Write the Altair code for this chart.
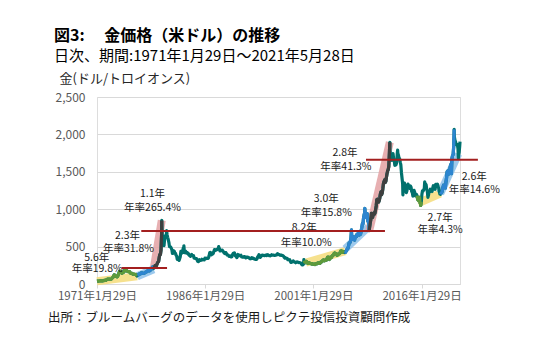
import altair as alt
import pandas as pd

FONT = "Noto Sans CJK JP"

# ---- monthly gold price (USD / troy oz) ----
p1970s = [
    38.0, 38.7, 38.9, 39.0, 40.5, 40.1, 41.0, 42.7, 42.0, 42.5, 42.9, 43.5,
    45.7, 48.3, 48.3, 49.0, 54.6, 62.1, 65.7, 67.0, 65.5, 64.9, 62.9, 63.9,
    65.1, 74.2, 84.1, 90.5, 102.0, 122.5, 120.2, 106.8, 103.0, 100.1, 94.8, 106.7,
    129.2, 150.2, 168.4, 172.2, 163.2, 154.1, 143.0, 154.6, 151.8, 158.8, 181.7, 183.8,
    176.3, 179.6, 178.2, 170.0, 167.1, 164.2, 165.2, 163.1, 144.6, 142.8, 142.8, 139.3,
    131.6, 130.6, 132.6, 128.2, 126.9, 125.7, 118.0, 107.5, 114.0, 116.0, 130.3, 133.9,
    132.3, 136.3, 148.2, 149.2, 146.7, 141.0, 143.4, 145.0, 149.5, 158.3, 162.1, 160.5,
    173.2, 178.1, 183.7, 175.1, 176.3, 183.4, 188.6, 206.0, 212.6, 227.3, 206.0, 207.8,
    227.3, 245.7, 242.1, 239.2, 257.6, 279.1, 294.7, 300.8, 355.1, 391.7, 392.5, 455.1,
]
p1980s = [
    675.3, 665.3, 553.6, 517.4, 513.8, 600.7, 644.3, 626.5, 673.6, 661.2, 623.5, 594.9,
    557.4, 499.8, 498.8, 495.8, 479.7, 460.8, 409.3, 410.2, 443.7, 437.8, 413.4, 410.1,
    384.1, 374.2, 330.1, 350.5, 333.7, 314.9, 339.1, 364.3, 436.9, 422.1, 414.8, 444.3,
    481.7, 492.0, 420.0, 432.8, 438.4, 412.8, 422.7, 416.3, 411.8, 393.6, 381.7, 388.1,
    370.9, 386.2, 394.3, 381.2, 377.1, 378.1, 347.7, 347.7, 341.1, 340.2, 341.1, 320.2,
    303.0, 298.9, 304.0, 324.9, 316.6, 316.6, 317.4, 330.1, 323.6, 325.8, 325.3, 322.4,
    345.4, 339.1, 345.8, 340.4, 342.6, 342.8, 348.7, 376.9, 418.6, 423.4, 398.1, 391.0,
    408.9, 401.1, 408.7, 438.5, 460.2, 449.6, 450.5, 460.6, 460.2, 465.9, 467.6, 486.5,
    477.4, 442.1, 443.6, 451.1, 451.6, 452.1, 437.0, 431.4, 413.0, 406.8, 420.1, 418.7,
    404.0, 387.8, 390.1, 384.1, 371.0, 367.6, 375.0, 365.4, 361.8, 366.9, 394.3, 409.5,
]
p1990s = [
    410.1, 416.7, 393.1, 374.3, 369.2, 352.3, 362.5, 394.7, 389.3, 380.7, 381.4, 378.2,
    383.6, 363.8, 363.3, 358.4, 357.4, 366.7, 367.7, 356.4, 348.7, 358.6, 360.2, 361.1,
    354.4, 353.8, 344.4, 338.6, 337.2, 340.8, 353.1, 342.9, 345.4, 344.4, 335.0, 334.8,
    329.0, 329.3, 330.1, 342.2, 367.2, 371.9, 392.0, 378.9, 355.3, 364.2, 374.0, 383.3,
    387.0, 381.7, 384.4, 378.3, 381.3, 385.4, 385.5, 380.4, 391.6, 389.8, 384.4, 379.3,
    378.6, 376.5, 382.0, 391.0, 385.3, 387.6, 386.2, 383.8, 383.1, 383.0, 385.9, 387.4,
    400.0, 405.0, 396.2, 392.9, 392.0, 385.3, 383.5, 387.5, 383.1, 381.1, 377.9, 369.0,
    354.8, 346.6, 351.8, 344.5, 343.8, 340.8, 324.1, 324.0, 322.8, 324.9, 306.0, 288.7,
    289.2, 297.5, 295.9, 308.4, 299.1, 292.3, 292.9, 284.1, 289.0, 296.0, 294.1, 291.6,
    287.1, 287.3, 285.9, 282.6, 276.4, 261.3, 256.1, 256.7, 264.7, 311.7, 292.3, 290.3,
]
p2000s = [
    284.3, 300.9, 286.4, 280.0, 275.3, 285.7, 281.6, 274.5, 273.7, 270.1, 266.0, 271.5,
    265.5, 261.9, 263.0, 260.5, 272.4, 270.2, 267.5, 272.4, 283.4, 283.1, 276.2, 275.9,
    281.7, 295.5, 294.0, 302.7, 314.5, 321.2, 313.3, 310.3, 319.2, 316.6, 319.1, 333.4,
    356.9, 359.0, 340.6, 328.2, 355.7, 356.4, 351.0, 359.8, 378.9, 378.9, 389.9, 407.6,
    414.0, 405.3, 406.7, 403.0, 383.8, 392.4, 398.1, 400.5, 405.3, 420.5, 439.4, 442.1,
    424.0, 423.4, 434.2, 429.2, 421.9, 430.7, 424.5, 437.9, 456.0, 469.9, 476.7, 510.1,
    549.9, 555.0, 557.1, 610.6, 675.4, 596.2, 633.7, 632.6, 598.2, 585.8, 627.8, 629.8,
    631.2, 664.8, 655.5, 679.4, 666.9, 655.5, 665.3, 665.4, 712.7, 754.6, 806.3, 803.2,
    889.6, 922.3, 968.4, 909.7, 888.7, 889.5, 939.8, 839.0, 829.9, 806.6, 760.9, 816.1,
    858.7, 943.2, 924.3, 890.2, 928.6, 945.7, 934.2, 949.4, 996.6, 1043.2, 1127.0, 1134.7,
]
p2010s = [
    1117.9, 1095.4, 1113.3, 1148.7, 1205.4, 1232.9, 1193.0, 1215.8, 1270.9, 1342.0, 1369.9, 1390.6,
    1356.4, 1372.7, 1424.0, 1473.8, 1510.4, 1528.7, 1572.8, 1755.8, 1771.9, 1665.2, 1738.9, 1652.3,
    1656.1, 1742.6, 1673.8, 1650.1, 1585.5, 1596.7, 1593.9, 1626.0, 1744.5, 1746.6, 1721.6, 1684.8,
    1671.9, 1627.6, 1593.1, 1487.9, 1414.0, 1343.4, 1285.5, 1351.7, 1348.8, 1316.6, 1275.8, 1221.5,
    1244.3, 1299.6, 1336.1, 1299.0, 1287.5, 1279.1, 1310.6, 1295.1, 1236.6, 1222.5, 1175.3, 1200.6,
    1250.8, 1227.1, 1178.6, 1198.9, 1198.6, 1181.5, 1128.3, 1117.9, 1124.8, 1159.3, 1086.4, 1068.3,
    1097.9, 1199.5, 1245.1, 1242.3, 1260.9, 1276.4, 1336.7, 1340.2, 1326.6, 1266.6, 1238.4, 1157.4,
    1192.1, 1234.2, 1231.1, 1266.9, 1246.0, 1260.3, 1236.8, 1283.0, 1314.1, 1279.5, 1281.9, 1264.5,
    1331.3, 1330.7, 1324.7, 1334.8, 1303.5, 1281.6, 1237.7, 1201.7, 1198.4, 1215.4, 1220.7, 1250.4,
    1291.8, 1320.1, 1300.9, 1285.9, 1283.7, 1359.0, 1412.9, 1500.4, 1510.6, 1494.8, 1470.0, 1479.1,
]
p2020s = [
    1560.7, 1597.1, 1591.9, 1683.2, 1715.9, 1732.2, 1846.5, 1968.6, 1921.9, 1900.3, 1866.3, 1858.4,
    1867.0, 1808.2, 1718.2, 1760.0, 1850.3,
]

# daily extremes visible in the chart
extra_dates = ["1974-12-30", "1980-01-21", "1980-09-22", "1983-02-15", "1987-12-14",
               "1999-10-05", "2006-05-12", "2008-03-17", "2008-10-24", "2011-09-05",
               "2012-10-04", "2013-06-28", "2015-12-17", "2016-07-06", "2020-03-19",
               "2020-08-06", "2021-03-08", "2021-05-28"]
extra_values = [195, 850, 715, 510, 500, 325, 725, 1011, 712, 1895,
                1790, 1192, 1050, 1366, 1474, 2067, 1683, 1903]

# highlighted price segments
seg_start = ["1971-01-29", "1976-08-25", "1978-12-10", "1999-10-15", "2005-06-01",
             "2008-10-24", "2015-06-01", "2018-08-16"]
seg_end = ["1976-08-25", "1978-12-10", "1980-01-21", "2005-06-01", "2008-10-24",
           "2011-09-05", "2016-02-01", "2020-08-06"]
seg_color = ["#5e9a3b", "#2d85d0", "#3f3f3f", "#5e9a3b", "#2d85d0",
             "#3f3f3f", "#5e9a3b", "#2d85d0"]

# trend bands (start/end of each rally)
band_start_dates = ["1971-01-29", "1976-08-25", "1978-12-10", "2000-01-15", "2005-07-01",
                    "2008-10-24", "2015-08-01", "2018-09-01"]
band_start_vals = [38, 104, 205, 285, 470, 712, 1080, 1210]
band_end_dates = ["1976-08-25", "1978-12-10", "1980-01-21", "2005-07-01", "2008-09-01",
                  "2011-09-05", "2018-09-01", "2021-03-01"]
band_end_vals = [104, 197, 850, 440, 760, 1895, 1210, 1740]
band_color = ["#f4dc7a", "#8cc0ea", "#e3a1a3", "#f4dc7a", "#8cc0ea",
              "#e3a1a3", "#f4dc7a", "#8cc0ea"]

# horizontal red reference lines
ref_start = ["1974-07-01", "1977-03-20", "2008-05-15"]
ref_end = ["1980-10-15", "2011-01-01", "2023-11-20"]
ref_value = [215, 708, 1660]

# annotations
ann_text = ["5.6年", "年率19.8%", "2.3年", "年率31.8%", "1.1年", "年率265.4%",
            "8.2年", "年率10.0%", "3.0年", "年率15.8%", "2.8年", "年率41.3%",
            "2.7年", "年率4.3%", "2.6年", "年率14.6%"]
ann_date = ["1971-01-20", "1971-02-10", "1975-04-20", "1975-06-10", "1978-10-10", "1978-10-10",
            "1999-10-25", "2000-02-01", "2002-11-15", "2002-11-15", "2005-06-20", "2005-08-01",
            "2018-08-25", "2018-08-25", "2023-05-20", "2023-05-20"]
ann_value = [350, 197, 643, 467, 1203, 1013,
             750, 547, 1136, 947, 1750, 1560,
             883, 720, 1430, 1253]

footnote = "出所：ブルームバーグのデータを使用しピクテ投信投資顧問作成"

# ---- build tables ----
prices = p1970s + p1980s + p1990s + p2000s + p2010s + p2020s
dates = []
for i in range(len(prices)):
    y = 1971 + i // 12
    m = i % 12 + 1
    dates.append(f"{y}-{m:02d}-15")
dates[0] = "1971-01-29"
price_df = pd.DataFrame({"date": dates + extra_dates, "price": prices + extra_values})
price_df = price_df.sort_values("date").reset_index(drop=True)

seg_rows = []
for i, (s, e, c) in enumerate(zip(seg_start, seg_end, seg_color)):
    sub = price_df[(price_df["date"] >= s) & (price_df["date"] <= e)]
    for d, p in zip(sub["date"], sub["price"]):
        seg_rows.append({"seg": i, "date": d, "price": p, "color": c})
seg_df = pd.DataFrame(seg_rows)

band_rows = []
for i in range(len(band_color)):
    band_rows.append({"band": i, "date": band_start_dates[i], "price": band_start_vals[i],
                      "color": band_color[i], "w": 8})
    band_rows.append({"band": i, "date": band_end_dates[i], "price": band_end_vals[i],
                      "color": band_color[i], "w": 8})
band_df = pd.DataFrame(band_rows)

ref_df = pd.DataFrame({"date": ref_start, "end": ref_end, "price": ref_value})
ann_df = pd.DataFrame({"date": ann_date, "price": ann_value, "text": ann_text})
foot_df = pd.DataFrame({"t": [footnote]})

for df in (price_df, seg_df, band_df, ann_df, ref_df):
    df["date"] = df["date"] + "T00:00:00"
ref_df["end"] = ref_df["end"] + "T00:00:00"

x_dom = [alt.DateTime(year=1971, month=1, date=29), alt.DateTime(year=2021, month=5, date=28)]
x_ticks = [alt.DateTime(year=1971, month=1, date=29), alt.DateTime(year=1986, month=1, date=29),
           alt.DateTime(year=2001, month=1, date=29), alt.DateTime(year=2016, month=1, date=29)]

x_axis = alt.Axis(values=x_ticks, labelExpr="timeFormat(datum.value, '%Y年%-m月%-d日')",
                  grid=False, domainColor="#d9d9d9", tickColor="#d9d9d9", tickSize=4,
                  labelColor="#595959", labelFontSize=11.5, labelFont=FONT,
                  labelPadding=2, labelFlush=False, labelOverlap=False, title=None)
y_axis = alt.Axis(values=[0, 500, 1000, 1500, 2000, 2500],
                  labelExpr="datum.value >= 1000 ? floor(datum.value / 1000) + ',' + slice(toString(1000 + datum.value % 1000), 1) : toString(datum.value)",
                  grid=True, gridColor="#d9d9d9", gridWidth=1, domain=False, ticks=False,
                  labelOverlap=False,
                  labelColor="#595959", labelFontSize=12, labelFont=FONT,
                  labelPadding=12, title="金(ドル/トロイオンス)", titleAngle=0,
                  titleAlign="left", titleBaseline="middle", titleX=-38, titleY=-19,
                  titleFontWeight="normal", titleFontSize=13, titleFont=FONT,
                  titleColor="#262626")
x_scale = alt.Scale(domain=x_dom)
y_scale = alt.Scale(domain=[0, 2500], nice=False)

x_enc = alt.X("date:T", scale=x_scale, axis=x_axis)
y_enc = alt.Y("price:Q", scale=y_scale, axis=y_axis)

bands = alt.Chart(band_df).mark_line(opacity=0.85, strokeCap="butt").encode(
    x=x_enc, y=y_enc, detail="band:N",
    color=alt.Color("color:N", scale=None),
    strokeWidth=alt.StrokeWidth("w:Q", scale=None))

main = alt.Chart(price_df).mark_line(color="#00716d", strokeWidth=3.2, strokeJoin="round").encode(
    x=x_enc, y=y_enc)

segs = alt.Chart(seg_df).mark_line(strokeWidth=3.2, strokeJoin="round").encode(
    x=x_enc, y=y_enc, detail="seg:N", color=alt.Color("color:N", scale=None))

labels = alt.Chart(ann_df).mark_text(fontSize=10.5, font=FONT, color="#1a1a1a").encode(
    x=x_enc, y=y_enc, text="text:N")

refs = alt.Chart(ref_df).mark_rule(color="#a31f1f", strokeWidth=2).encode(
    x=x_enc, x2="end:T", y=y_enc)

foot = alt.Chart(foot_df).mark_text(fontSize=12.5, font=FONT, color="#1a1a1a",
                                    align="left", baseline="middle").encode(
    x=alt.value(-49), y=alt.value(221), text="t:N")

chart = alt.layer(bands, main, segs, labels, refs, foot).properties(
    width=363, height=187,
    autosize=alt.AutoSizeParams(type="none"),
    padding={"left": 97, "top": 97, "right": 90, "bottom": 55},
    title=alt.TitleParams(
        text="図3:　 金価格（米ドル）の推移",
        subtitle="日次、期間:1971年1月29日～2021年5月28日",
        anchor="start", frame="group", dx=-43, offset=8,
        font=FONT, fontSize=16, fontWeight="bold", color="#000000",
        subtitleFont=FONT, subtitleFontSize=15, subtitleColor="#000000",
        subtitlePadding=5),
).configure_view(stroke=None).configure(background="white")

chart.save("out.html", embed_options={"renderer": "svg", "actions": False})
